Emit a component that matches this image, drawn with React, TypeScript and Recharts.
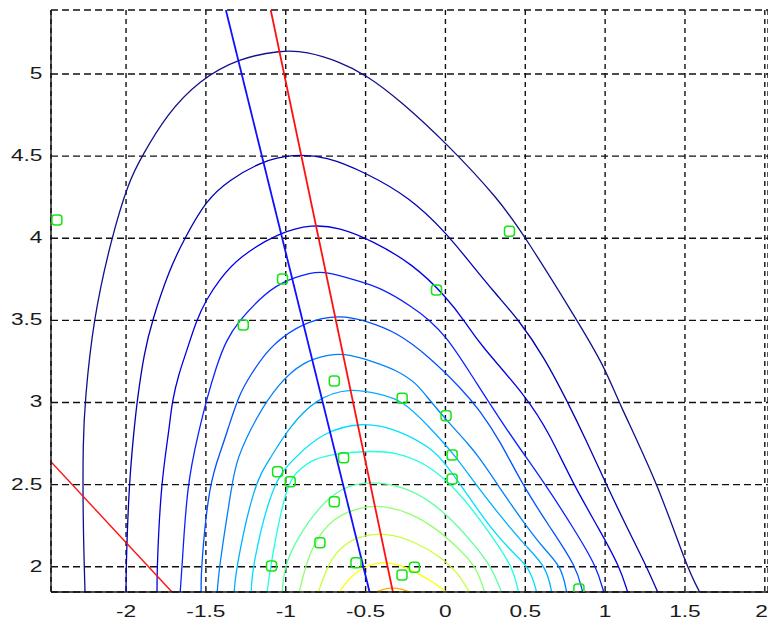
import React from 'react';
import { ComposedChart, Line, Scatter, XAxis, YAxis, CartesianGrid } from 'recharts';

const xTicks = [-2, -1.5, -1, -0.5, 0, 0.5, 1, 1.5, 2];
const yTicks = [2, 2.5, 3, 3.5, 4, 4.5, 5];
const xDomain: [number, number] = [-2.47, 2.02];
const yDomain: [number, number] = [1.846, 5.39];

const contour1 = [[-2.257,1.846],[-2.27,2.285],[-2.27,2.771],[-2.257,3.009],[-2.207,3.496],[-2.094,3.995],[-1.981,4.354],[-1.9,4.5],[-1.749,4.75],[-1.542,4.963],[-1.292,5.097],[-1.028,5.145],[-0.871,5.138],[-0.665,5.076],[-0.495,4.994],[-0.288,4.842],[0.006,4.58],[0.339,4.233],[0.508,3.995],[0.828,3.496],[0.997,3.216],[1.078,3.015],[1.329,2.509],[1.511,1.998],[1.592,1.846]];
const contour2 = [[-2.0,1.846],[-2.0,2.0],[-1.981,2.51],[-1.95,2.833],[-1.931,3.009],[-1.887,3.302],[-1.837,3.497],[-1.73,3.807],[-1.636,3.995],[-1.498,4.233],[-1.354,4.355],[-1.147,4.47],[-0.959,4.512],[-0.746,4.5],[-0.495,4.397],[-0.226,4.251],[0.006,4.032],[0.15,3.856],[0.32,3.655],[0.464,3.497],[0.621,3.271],[0.759,3.015],[0.884,2.765],[1.003,2.51],[1.135,2.242],[1.26,2.0],[1.329,1.846]];
const contour3 = [[-1.806,1.846],[-1.806,2.0],[-1.781,2.51],[-1.73,2.833],[-1.712,3.009],[-1.668,3.18],[-1.624,3.302],[-1.561,3.497],[-1.498,3.625],[-1.417,3.747],[-1.292,3.887],[-1.041,4.035],[-0.834,4.085],[-0.665,4.065],[-0.458,3.985],[-0.207,3.845],[0.006,3.644],[0.132,3.479],[0.213,3.358],[0.508,3.035],[0.652,2.81],[0.796,2.51],[0.966,2.223],[1.091,2.0],[1.141,1.846]];
const contour4 = [[-1.661,1.846],[-1.649,2.0],[-1.618,2.51],[-1.542,2.833],[-1.498,3.009],[-1.436,3.216],[-1.373,3.38],[-1.292,3.497],[-1.166,3.63],[-1.041,3.73],[-0.834,3.795],[-0.746,3.795],[-0.583,3.75],[-0.414,3.704],[-0.207,3.582],[-0.1,3.502],[0.006,3.399],[0.132,3.216],[0.382,2.833],[0.621,2.51],[0.809,2.224],[0.947,2.0],[0.991,1.846]];
const contour5 = [[-1.53,1.846],[-1.53,2.0],[-1.48,2.51],[-1.404,2.711],[-1.354,2.863],[-1.292,3.046],[-1.229,3.155],[-1.103,3.338],[-0.934,3.46],[-0.771,3.52],[-0.621,3.526],[-0.495,3.495],[-0.307,3.43],[-0.1,3.278],[0.107,3.077],[0.213,2.955],[0.339,2.772],[0.476,2.51],[0.652,2.242],[0.821,2.0],[0.859,1.846]];
const contour6 = [[-1.429,1.846],[-1.417,2.0],[-1.335,2.51],[-1.31,2.65],[-1.185,2.912],[-1.041,3.119],[-0.897,3.245],[-0.727,3.295],[-0.602,3.295],[-0.458,3.25],[-0.307,3.198],[-0.182,3.119],[-0.1,3.015],[0.006,2.893],[0.15,2.741],[0.213,2.662],[0.32,2.51],[0.464,2.303],[0.621,2.102],[0.727,2.0],[0.759,1.846]];
const contour7 = [[-1.323,1.846],[-1.31,2.0],[-1.197,2.51],[-1.103,2.65],[-0.978,2.851],[-0.809,3.025],[-0.602,3.09],[-0.414,3.052],[-0.27,3.015],[-0.1,2.851],[0.069,2.668],[0.182,2.51],[0.339,2.315],[0.495,2.132],[0.633,2.0],[0.665,1.846]];
const contour8 = [[-1.216,1.846],[-1.21,2.0],[-1.085,2.51],[-0.959,2.65],[-0.771,2.82],[-0.52,2.882],[-0.307,2.838],[-0.1,2.73],[-0.019,2.65],[0.088,2.51],[0.245,2.284],[0.401,2.102],[0.527,2.0],[0.571,1.846]];
const contour9 = [[-1.116,1.846],[-1.097,2.0],[-0.997,2.51],[-0.915,2.589],[-0.834,2.655],[-0.665,2.692],[-0.476,2.705],[-0.307,2.697],[-0.132,2.632],[0.006,2.528],[0.15,2.376],[0.307,2.163],[0.42,2.0],[0.458,1.846]];
const contour10 = [[-1.022,1.846],[-1.009,2.0],[-0.934,2.164],[-0.79,2.368],[-0.646,2.485],[-0.476,2.522],[-0.27,2.49],[-0.1,2.406],[0.056,2.272],[0.182,2.132],[0.288,2.0],[0.351,1.846]];
const contour11 = [[-0.915,1.846],[-0.853,2.102],[-0.708,2.308],[-0.495,2.37],[-0.382,2.37],[-0.226,2.33],[-0.069,2.242],[0.075,2.12],[0.194,2.0],[0.245,1.846]];
const contour12 = [[-0.796,1.846],[-0.759,1.949],[-0.708,2.059],[-0.633,2.135],[-0.539,2.186],[-0.37,2.21],[-0.182,2.148],[-0.038,2.065],[0.075,1.968],[0.15,1.846]];
const contour13 = [[-0.665,1.846],[-0.602,1.931],[-0.527,1.99],[-0.408,2.034],[-0.288,2.014],[-0.163,1.956],[-0.069,1.901],[0.006,1.846]];
const contour14 = [[-0.433,1.846],[-0.382,1.866],[-0.332,1.872],[-0.276,1.866],[-0.226,1.846]];

const contours = [contour1, contour2, contour3, contour4, contour5, contour6, contour7, contour8, contour9, contour10, contour11, contour12, contour13, contour14];
const contourColors = ['#10108a', '#0000b0', '#0000e0', '#0a20ff', '#0050ff', '#0080ff', '#00b0ff', '#00e0ff', '#20ffe0', '#60ffa0', '#90ff70', '#c8ff38', '#ffff00', '#ffae00'];

const samples = [[-2.433,4.111],[0.401,4.043],[-1.02,3.752],[-0.056,3.685],[-1.266,3.472],[-0.696,3.131],[-0.271,3.026],[0.004,2.92],[-0.638,2.664],[0.042,2.68],[-1.051,2.579],[-0.972,2.518],[0.042,2.534],[-0.696,2.396],[-0.786,2.146],[-1.089,2.004],[-0.56,2.024],[-0.272,1.949],[-0.194,1.996],[0.836,1.864]];

const blueLine = [[-1.375, 5.39], [-0.475, 1.846]];
const redLine = [[-1.094, 5.39], [-0.329, 1.846]];
const redLineLow = [[-2.469, 2.638], [-1.7125, 1.846]];

const toPts = (arr: number[][]) => arr.map(([x, y]) => ({ x, y }));

const FONT = '"Liberation Sans", Arial, sans-serif';

const XTick = (props: any) => {
  const { x, y, payload } = props;
  const last = payload.value === xTicks[xTicks.length - 1];
  return (
    <g transform={`translate(${last ? x + 3 : x},${y})`}>
      <text x={0} y={25.5} textAnchor={last ? 'end' : 'middle'} fontFamily={FONT} fontSize={16} fill="#1a1a1a" transform="scale(1.42,1)">
        {payload.value}
      </text>
    </g>
  );
};

const YTick = (props: any) => {
  const { x, y, payload } = props;
  return (
    <g transform={`translate(${x - 8.5},${y})`}>
      <text x={0} y={5} textAnchor="end" fontFamily={FONT} fontSize={16} fill="#1a1a1a" transform="scale(1.42,1)">
        {payload.value}
      </text>
    </g>
  );
};

const Marker = (props: any) => {
  const { cx, cy } = props;
  if (cx == null || cy == null) return null;
  return <rect x={cx - 5} y={cy - 5} width={10} height={10} rx={3} ry={3} fill="none" stroke="#14e614" strokeWidth={1.5} />;
};

export default function App() {
  return (
    <div style={{ position: 'absolute', left: 0, top: 0, width: 768, height: 622, background: '#fff' }}>
      <ComposedChart width={768} height={622} margin={{ top: 10, right: 0, bottom: 0, left: 0 }}>
        <CartesianGrid horizontal={true} vertical={false} stroke="#111" strokeWidth={1.4} strokeDasharray="7 4" />
        <CartesianGrid horizontal={false} vertical={true} stroke="#111" strokeWidth={1.4} strokeDasharray="5 4" />
        <XAxis
          dataKey="x"
          type="number"
          domain={xDomain}
          ticks={xTicks}
          allowDataOverflow
          height={30}
          tickSize={0}
          tickMargin={0}
          tickLine={false}
          axisLine={{ stroke: '#111', strokeWidth: 1.4 }}
          tick={<XTick />}
          interval={0}
        />
        <XAxis
          xAxisId="top"
          orientation="top"
          dataKey="x"
          type="number"
          domain={xDomain}
          allowDataOverflow
          height={0}
          tick={false}
          tickLine={false}
          axisLine={{ stroke: '#111', strokeWidth: 1.4 }}
        />
        <YAxis
          dataKey="y"
          type="number"
          domain={yDomain}
          ticks={yTicks}
          allowDataOverflow
          width={51}
          tickSize={0}
          tickMargin={0}
          tickLine={false}
          axisLine={{ stroke: '#111', strokeWidth: 1.4 }}
          tick={<YTick />}
          interval={0}
        />
        {contours.map((c, i) => (
          <Line
            key={`c${i}`}
            data={toPts(c)}
            dataKey="y"
            type="basis"
            stroke={contourColors[i]}
            strokeWidth={1.3}
            dot={false}
            activeDot={false}
            isAnimationActive={false}
          />
        ))}
        <Line data={toPts(blueLine)} dataKey="y" type="linear" stroke="#1010ff" strokeWidth={1.8} dot={false} activeDot={false} isAnimationActive={false} />
        <Line data={toPts(redLine)} dataKey="y" type="linear" stroke="#ff1010" strokeWidth={1.8} dot={false} activeDot={false} isAnimationActive={false} />
        <Line data={toPts(redLineLow)} dataKey="y" type="linear" stroke="#ff1010" strokeWidth={1.4} dot={false} activeDot={false} isAnimationActive={false} />
        <Scatter data={toPts(samples)} dataKey="y" shape={<Marker />} isAnimationActive={false} />
      </ComposedChart>
    </div>
  );
}
